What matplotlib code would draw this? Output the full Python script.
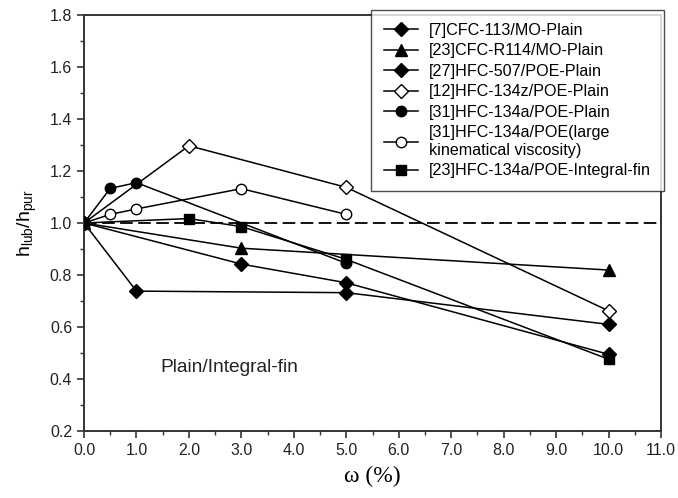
import numpy as np
import matplotlib
matplotlib.use("Agg")
import matplotlib.pyplot as plt
from matplotlib.ticker import MultipleLocator, FormatStrFormatter

plt.rcParams["font.family"] = ["Liberation Sans", "DejaVu Sans"]

# data
cfc113_x = [0, 1, 5, 10]
cfc113_y = [1.0, 0.738, 0.732, 0.61]

r114_x = [0, 3, 10]
r114_y = [1.0, 0.903, 0.819]

hfc507_x = [0, 3, 5, 10]
hfc507_y = [1.0, 0.842, 0.770, 0.495]

hfc134z_x = [0, 2, 5, 10]
hfc134z_y = [1.0, 1.297, 1.137, 0.662]

hfc134a_x = [0, 0.5, 1, 5]
hfc134a_y = [1.0, 1.133, 1.155, 0.845]

hfc134a_lv_x = [0, 0.5, 1, 3, 5]
hfc134a_lv_y = [1.0, 1.033, 1.054, 1.132, 1.033]

hfc134a_fin_x = [0, 2, 3, 5, 10]
hfc134a_fin_y = [1.0, 1.017, 0.986, 0.86, 0.476]

labels = ["[7]CFC-113/MO-Plain",
          "[23]CFC-R114/MO-Plain",
          "[27]HFC-507/POE-Plain",
          "[12]HFC-134z/POE-Plain",
          "[31]HFC-134a/POE-Plain",
          "[31]HFC-134a/POE(large\nkinematical viscosity)",
          "[23]HFC-134a/POE-Integral-fin"]

fig = plt.figure(figsize=(6.78, 4.98), dpi=100)
ax = fig.add_axes([0.1239, 0.1345, 0.975 - 0.1239, 0.970 - 0.1345])

ax.axhline(1.0, color="black", lw=1.3, ls=(0, (7, 3)), zorder=1)

kw = dict(color="black", lw=1.1, mec="black", zorder=3)
ax.plot(cfc113_x, cfc113_y, marker="D", ms=7, mfc="black", label=labels[0], **kw)
ax.plot(r114_x, r114_y, marker="^", ms=8, mfc="black", label=labels[1], **kw)
ax.plot(hfc507_x, hfc507_y, marker="D", ms=7, mfc="black", label=labels[2], **kw)
ax.plot(hfc134z_x, hfc134z_y, marker="D", ms=7, mfc="white", label=labels[3], **kw)
ax.plot(hfc134a_x, hfc134a_y, marker="o", ms=7.5, mfc="black", label=labels[4], **kw)
ax.plot(hfc134a_lv_x, hfc134a_lv_y, marker="o", ms=7.5, mfc="white", label=labels[5], **kw)
ax.plot(hfc134a_fin_x, hfc134a_fin_y, marker="s", ms=7, mfc="black", label=labels[6], **kw)

ax.set_xlim(0, 11)
ax.set_ylim(0.2, 1.8)
ax.xaxis.set_major_locator(MultipleLocator(1))
ax.xaxis.set_minor_locator(MultipleLocator(0.5))
ax.yaxis.set_major_locator(MultipleLocator(0.2))
ax.yaxis.set_minor_locator(MultipleLocator(0.1))
ax.xaxis.set_major_formatter(FormatStrFormatter("%.1f"))
ax.yaxis.set_major_formatter(FormatStrFormatter("%.1f"))
ax.tick_params(which="major", direction="out", length=5, width=1.2, labelsize=11.5,
               colors="#333333", labelcolor="#222222")
ax.tick_params(which="minor", direction="out", length=3, width=1.0, colors="#333333")
for s in ax.spines.values():
    s.set_linewidth(1.4)
    s.set_color("#333333")

ax.text(1.45, 0.445, "Plain/Integral-fin", fontsize=13.8, va="center", ha="left",
        color="#222222")

ax.set_xlabel("ω (%)", fontsize=17, family=["Liberation Serif", "DejaVu Serif"],
              labelpad=6)
ax.set_ylabel(r"h$_{\mathregular{lub}}$/h$_{\mathregular{pur}}$", fontsize=14, labelpad=8)

leg = ax.legend(loc="upper right", bbox_to_anchor=(664 / 678, 1 - 10 / 498),
                bbox_transform=fig.transFigure, fontsize=11.6, frameon=True,
                fancybox=False, handlelength=2.1, handletextpad=0.7,
                labelspacing=0.34, borderpad=0.8, borderaxespad=0)
leg.get_frame().set_edgecolor("#222222")
leg.get_frame().set_linewidth(1.0)
leg.set_zorder(5)

fig.savefig("out.png", dpi=100)
